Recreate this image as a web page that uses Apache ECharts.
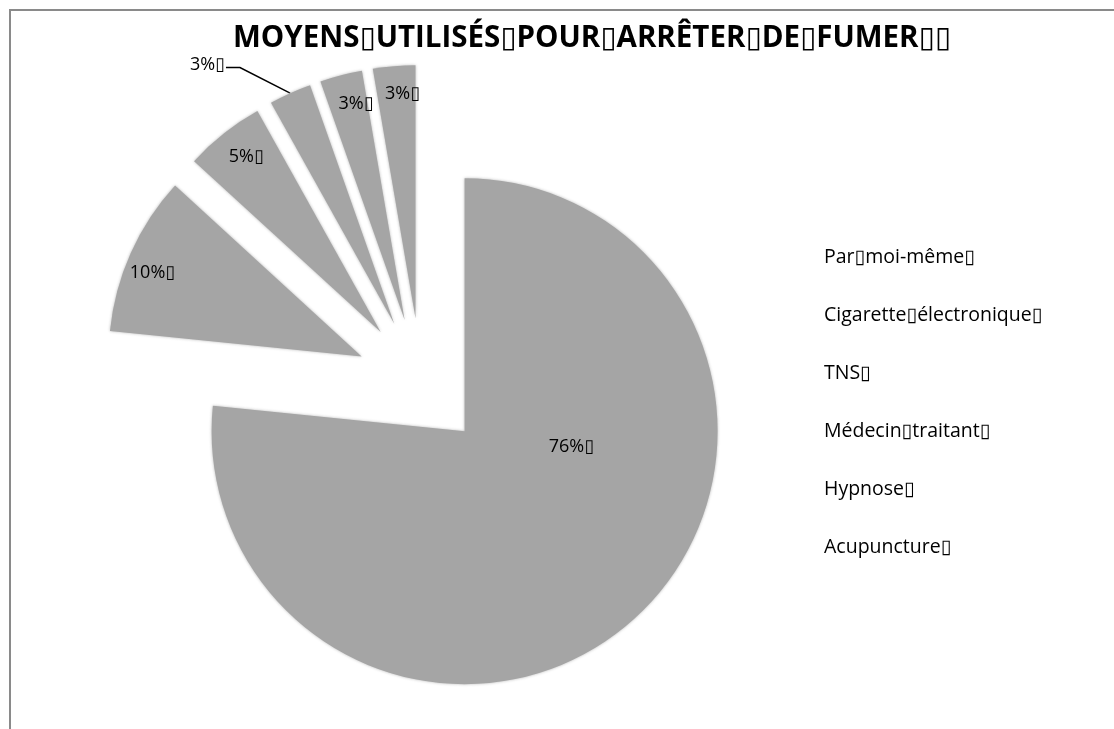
<!DOCTYPE html>
<html>
<head>
<meta charset="utf-8">
<script src="https://cdn.jsdelivr.net/npm/echarts@6/dist/echarts.min.js"></script>
<style>
  html, body { margin: 0; padding: 0; background: #fff; }
  #chart { width: 1114px; height: 729px; }
</style>
</head>
<body>
<div id="chart"></div>
<script>
// missing-glyph box as it shows in the source picture
const BOX = '\u25AF';

const chartTitle = 'MOYENS' + BOX + 'UTILISÉS' + BOX + 'POUR' + BOX + 'ARRÊTER' + BOX + 'DE' + BOX + 'FUMER' + BOX + BOX;

const categories = [
  'Par' + BOX + 'moi-même' + BOX,
  'Cigarette' + BOX + 'électronique' + BOX,
  'TNS' + BOX,
  'Médecin' + BOX + 'traitant' + BOX,
  'Hypnose' + BOX,
  'Acupuncture' + BOX
];

// shares (labels round to 76 / 10 / 5 / 3 / 3 / 3)
const shares = [76.6, 10.2, 5.1, 2.7, 2.7, 2.7];

// nudges of the data labels from their default spot, like Excel's best fit
const labelNudge = [[20, -80], [-91, -31], [-54, -74], [-42, -15], [-16, -91], [-2, -95]];

const FONT = '"Open Sans", "DejaVu Sans", sans-serif';
const SLICE = '#A5A5A5';

const chartDom = echarts.init(document.getElementById('chart'));

const pieData = categories.map(function (name, i) {
  const item = {
    name: name,
    value: shares[i],
    selected: true
  };
  if (i === 3) {
    item.label = { position: 'outside' };
    item.labelLine = { show: true };
  }
  return item;
});

const option = {
  animation: false,
  title: {
    text: chartTitle,
    left: 228,
    top: 19,
    textStyle: {
      fontFamily: FONT,
      fontWeight: 'bold',
      fontSize: 29.5,
      color: '#000'
    }
  },
  legend: {
    orient: 'vertical',
    left: 814,
    top: 241,
    itemWidth: 0,
    itemHeight: 0,
    itemGap: 36,
    selectedMode: false,
    icon: 'rect',
    itemStyle: { opacity: 0 },
    textStyle: {
      fontFamily: FONT,
      fontSize: 19.5,
      lineHeight: 22,
      color: '#000'
    },
    data: categories
  },
  graphic: [{
    type: 'rect',
    shape: { x: 10, y: 10, width: 1200, height: 800 },
    style: { fill: 'none', stroke: '#8a8a8a', lineWidth: 2 },
    silent: true
  }],
  series: [{
    type: 'pie',
    center: [421, 383],
    radius: [0, 253],
    startAngle: 90,
    clockwise: true,
    selectedMode: 'multiple',
    selectedOffset: 65,
    avoidLabelOverlap: false,
    percentPrecision: 0,
    itemStyle: {
      color: SLICE,
      borderWidth: 0,
      shadowBlur: 3,
      shadowColor: 'rgba(165,165,165,0.8)'
    },
    select: {
      itemStyle: { color: SLICE, borderWidth: 0 }
    },
    emphasis: { disabled: true },
    label: {
      show: true,
      position: 'inside',
      formatter: '{d}%' + BOX,
      fontFamily: FONT,
      fontSize: 18,
      color: '#000'
    },
    labelLine: {
      show: false,
      length: 15,
      length2: 12,
      lineStyle: { color: '#000', width: 1.5 }
    },
    labelLayout: function (params) {
      const n = labelNudge[params.dataIndex];
      const p = params.labelLinePoints;
      if (p && p.length === 3) {
        // keep the leader line on the slice, follow the moved label at its other end
        const end = [p[2][0] + n[0] - 4, p[2][1] + n[1] + 3];
        return {
          dx: n[0],
          dy: n[1],
          hideOverlap: false,
          labelLinePoints: [p[0], [end[0] + 14, end[1]], end]
        };
      }
      return { dx: n[0], dy: n[1], hideOverlap: false };
    },
    data: pieData
  }]
};

chartDom.setOption(option);
</script>
</body>
</html>
